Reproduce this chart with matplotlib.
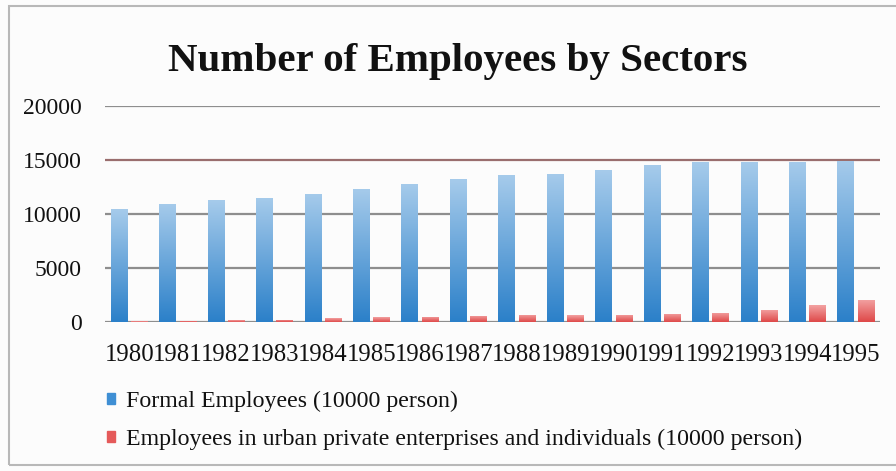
import numpy as np
import matplotlib
matplotlib.use("Agg")
import matplotlib.pyplot as plt
from matplotlib.colors import LinearSegmentedColormap
from matplotlib.patches import Rectangle

years = ["1980", "1981", "1982", "1983", "1984", "1985", "1986", "1987",
         "1988", "1989", "1990", "1991", "1992", "1993", "1994", "1995"]
formal = [10444, 10940, 11281, 11515, 11890, 12358, 12809, 13214,
          13608, 13742, 14059, 14508, 14792, 14849, 14849, 14908]
private = [81, 113, 147, 231, 339, 450, 483, 569,
           659, 648, 671, 760, 838, 1116, 1557, 2045]
series_labels = ["Formal Employees (10000 person)",
                 "Employees in urban private enterprises and individuals (10000 person)"]

serif = ["Liberation Serif", "DejaVu Serif"]
plt.rcParams["font.family"] = serif

fig = plt.figure(figsize=(8.96, 4.71), dpi=100, facecolor="#fcfcfc")
# outer chart frame
fig.patches.append(Rectangle((9 / 896, 6 / 471), 1.2, 1 - 12 / 471,
                             transform=fig.transFigure, fill=False,
                             edgecolor="#b8b8b8", linewidth=1.5))

ax = fig.add_axes([105 / 896, 1 - 322 / 471, 775 / 896, 216 / 471])
ax.set_facecolor("none")

x = np.arange(len(years))
w = 0.34
off = 0.21

blue_cmap = LinearSegmentedColormap.from_list("b", ["#2b80c9", "#a6cbeb"])
red_cmap = LinearSegmentedColormap.from_list("r", ["#de4848", "#f3a3a3"])

bars_b = ax.bar(x - off, formal, width=w, color="#4f9ad8", zorder=2, linewidth=0)
bars_r = ax.bar(x + off, private, width=w, color="#e86464", zorder=2, linewidth=0)

grad = np.linspace(0, 1, 256).reshape(-1, 1)
for bars, cmap in ((bars_b, blue_cmap), (bars_r, red_cmap)):
    for b in bars:
        x0, y0 = b.get_x(), b.get_y()
        bw, bh = b.get_width(), b.get_height()
        im = ax.imshow(grad, cmap=cmap, origin="lower", aspect="auto",
                       extent=(x0, x0 + bw, y0, y0 + bh), zorder=3,
                       interpolation="bicubic")
        im.set_clip_path(b)

ax.set_xlim(-0.5, len(years) - 0.5)
ax.set_ylim(0, 20000)
ax.set_yticks([0, 5000, 10000, 15000, 20000])
ax.set_yticklabels(["0", "5000", "10000", "15000", "20000"])
ax.set_xticks(x)
ax.set_xticklabels(years)
ax.tick_params(axis="y", length=0, labelsize=17, colors="#111111", pad=17)
ax.tick_params(axis="x", length=0, labelsize=17.8, colors="#111111", pad=16)

for s in ax.spines.values():
    s.set_visible(False)
for yv in [0, 5000, 10000, 20000]:
    ax.axhline(yv, color="#8e8e8e", linewidth=1.6, zorder=1)
ax.axhline(15000, color="#9a6e6e", linewidth=1.6, zorder=1)

fig.text(458 / 896, 1 - 61 / 471, "Number of Employees by Sectors",
         ha="center", va="center", fontsize=29.5, fontweight="bold",
         color="#111111")

handles = [Rectangle((0, 0), 1, 1, color="#3f8fd4"),
           Rectangle((0, 0), 1, 1, color="#e55a5a")]
fig.legend(handles, series_labels, loc="upper left",
           bbox_to_anchor=(107 / 896, 1 - 391 / 471), frameon=False,
           fontsize=17.2, handlelength=0.33, handleheight=0.33,
           handletextpad=0.45, labelspacing=0.68, borderaxespad=0,
           borderpad=0, labelcolor="#111111")

fig.savefig("out.png", dpi=100, facecolor=fig.get_facecolor())
